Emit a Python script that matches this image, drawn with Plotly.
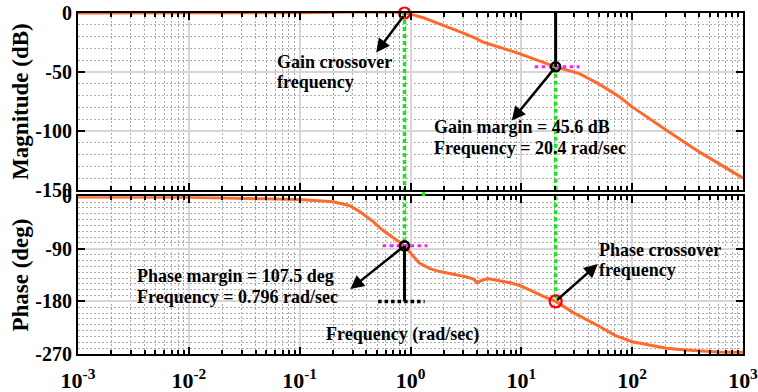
import math
import plotly.graph_objects as go

# ---------------- data ----------------
mag_freq = [0.001, 0.01, 0.1, 0.3, 0.55, 0.75, 0.883, 1.0, 1.3, 1.7, 2.2, 3.0, 3.94, 4.46,
            5.2, 6.35, 7.8, 9.6, 13, 20.4, 33.4, 50, 76.7, 100, 204, 403, 1000]
mag_db = [0, 0, 0.2, 0.8, 1.0, 0.6, 0, -1, -4, -8, -12, -17, -21.7, -24.5,
          -26.5, -28.8, -31.6, -34.4, -39, -45.6, -51.3, -60, -71, -79.5, -99.2, -117.6, -139.8]

phase_freq = [0.001, 0.01, 0.035, 0.1, 0.2, 0.28, 0.35, 0.45, 0.56, 0.7, 0.883, 1.05, 1.2, 1.5,
              1.83, 2.5, 3.2, 3.7, 4.0, 4.4, 4.95, 6.5, 8.3, 10, 12.6, 16, 20.4, 30, 50.8, 70,
              100, 150, 204, 300, 406, 600, 1000]
phase_deg = [-1.5, -2, -4, -5.7, -9.7, -16, -26.8, -42, -58, -72, -85, -102, -114.5, -124,
             -129, -134, -138, -142, -148, -144, -141, -145, -149, -154, -163, -172, -180, -200, -223, -238,
             -249, -256, -260, -263, -265, -266.5, -267]

decade_ticks = [1e-3, 1e-2, 1e-1, 1e0, 1e1, 1e2, 1e3]
decade_labels = ["<b>10<sup>-3</sup></b>", "<b>10<sup>-2</sup></b>", "<b>10<sup>-1</sup></b>",
                 "<b>10<sup>0</sup></b>", "<b>10<sup>1</sup></b>", "<b>10<sup>2</sup></b>",
                 "<b>10<sup>3</sup></b>"]
mag_ticks = [-150, -100, -50, 0]
mag_labels = ["<b>-150</b>", "<b>-100</b>", "<b>-50</b>", "<b>0</b>"]
phase_ticks = [-270, -180, -90, 0]
phase_labels = ["<b>-270</b>", "<b>-180</b>", "<b>-90</b>", "<b>0</b>"]

# margins
w_gc = 0.883          # gain crossover frequency (as drawn)
w_pc = 20.4           # phase crossover frequency
gm_level = -45.6      # magnitude at phase crossover
pm_level = -85        # phase at gain crossover (as drawn)
pc_level = -180

# auxiliary dotted segments (frequency spans)
mag_mark_span = [13.2, 33.5]
phase_mark_span = [0.56, 1.42]
black_dot_span = [0.51, 1.34]

# annotation arrow heads (freq, value)
gc_arrow_head = (0.49, -33.5)
gm_arrow_head = (8.2, -91)
pm_arrow_head = (0.286, -159)
pc_arrow_head = (49, -116)

ORANGE = "#ff6a2b"
GREEN = "#19e619"
MAGENTA = "#ff1aff"
FONT = "Liberation Serif"

top_dom = [0.4805, 1.0]
bot_dom = [0.0, 0.4629]

minor_vals = [k * 10.0 ** n for n in range(-3, 3) for k in range(2, 10)]

fig = go.Figure()

# Bode magnitude & phase
fig.add_trace(go.Scatter(x=mag_freq, y=mag_db, mode="lines", line=dict(color=ORANGE, width=3),
                         xaxis="x", yaxis="y", hoverinfo="skip"))
fig.add_trace(go.Scatter(x=phase_freq, y=phase_deg, mode="lines", line=dict(color=ORANGE, width=3),
                         xaxis="x2", yaxis="y2", hoverinfo="skip"))

# green dotted verticals
fig.add_trace(go.Scatter(x=[w_gc, w_gc], y=[0, -150], mode="lines",
                         line=dict(color=GREEN, width=3.5, dash="4px,3px"), xaxis="x", yaxis="y"))
fig.add_trace(go.Scatter(x=[w_gc, w_gc], y=[0, pm_level], mode="lines",
                         line=dict(color=GREEN, width=3.5, dash="4px,3px"), xaxis="x2", yaxis="y2"))
fig.add_trace(go.Scatter(x=[w_pc, w_pc], y=[gm_level, -150], mode="lines",
                         line=dict(color=GREEN, width=3.5, dash="4px,3px"), xaxis="x", yaxis="y"))
fig.add_trace(go.Scatter(x=[w_pc, w_pc], y=[0, pc_level], mode="lines",
                         line=dict(color=GREEN, width=3.5, dash="4px,3px"), xaxis="x2", yaxis="y2"))

# magenta dotted horizontals
fig.add_trace(go.Scatter(x=mag_mark_span, y=[gm_level, gm_level], mode="lines",
                         line=dict(color=MAGENTA, width=3, dash="3.5px,3.5px"), xaxis="x", yaxis="y"))
fig.add_trace(go.Scatter(x=phase_mark_span, y=[pm_level, pm_level], mode="lines",
                         line=dict(color=MAGENTA, width=3, dash="3.5px,3.5px"), xaxis="x2", yaxis="y2"))

# black solid verticals and black dotted horizontal
fig.add_trace(go.Scatter(x=[w_pc, w_pc], y=[0, gm_level], mode="lines",
                         line=dict(color="black", width=3), xaxis="x", yaxis="y"))
fig.add_trace(go.Scatter(x=[w_gc, w_gc], y=[pm_level, pc_level], mode="lines",
                         line=dict(color="black", width=3), xaxis="x2", yaxis="y2"))
fig.add_trace(go.Scatter(x=black_dot_span, y=[pc_level, pc_level], mode="lines",
                         line=dict(color="black", width=3.5, dash="3.5px,3px"), xaxis="x2", yaxis="y2"))

# markers
fig.add_trace(go.Scatter(x=[w_gc], y=[0], mode="markers", cliponaxis=False,
                         marker=dict(symbol="circle-open", size=11, color="red", line=dict(width=2.2, color="red")),
                         xaxis="x", yaxis="y"))
fig.add_trace(go.Scatter(x=[w_pc], y=[gm_level], mode="markers",
                         marker=dict(symbol="circle-open", size=9, color="black", line=dict(width=2.5, color="black")),
                         xaxis="x", yaxis="y"))
fig.add_trace(go.Scatter(x=[w_gc], y=[pm_level], mode="markers",
                         marker=dict(symbol="circle-open", size=9, color="black", line=dict(width=2.8, color="black")),
                         xaxis="x2", yaxis="y2"))
fig.add_trace(go.Scatter(x=[w_pc], y=[pc_level], mode="markers",
                         marker=dict(symbol="circle-open", size=12, color="red", line=dict(width=2.2, color="red")),
                         xaxis="x2", yaxis="y2"))

# green dots through the gap between the two panels
for wf in (w_gc, w_pc):
    fig.add_shape(type="line", xref="x", yref="paper", x0=math.log10(wf), x1=math.log10(wf),
                  y0=bot_dom[1], y1=top_dom[0], line=dict(color=GREEN, width=3.5, dash="4px,3px"))

txt_font = dict(family=FONT, size=18, color="black")


def label(text, xlog, y, ax="x", ay="y"):
    fig.add_annotation(text="<b>" + text + "</b>", x=xlog, y=y, xref=ax, yref=ay, xanchor="left",
                       yanchor="middle", showarrow=False, font=txt_font)


def arrow(tail, head, ax="x", ay="y"):
    fig.add_annotation(text="", x=math.log10(head[0]), y=head[1], ax=math.log10(tail[0]), ay=tail[1],
                       xref=ax, yref=ay, axref=ax, ayref=ay, showarrow=True, arrowhead=2,
                       arrowsize=1.1, arrowwidth=2.5, arrowcolor="black", standoff=0, startstandoff=0)


arrow((w_gc, -1.5), gc_arrow_head)
arrow((w_pc, gm_level), gm_arrow_head)
arrow((w_gc, pm_level), pm_arrow_head, "x2", "y2")
arrow((w_pc, pc_level), pc_arrow_head, "x2", "y2")

label("Gain crossover", -1.224, -41.7)
label("frequency", -1.224, -58.6)
label("Gain margin = 45.6 dB", 0.198, -96.7)
label("Frequency = 20.4 rad/sec", 0.198, -114.5)
label("Phase margin = 107.5 deg", -2.486, -136.2, "x2", "y2")
label("Frequency = 0.796 rad/sec", -2.486, -172.1, "x2", "y2")
label("Phase crossover", 1.680, -92.3, "x2", "y2")
label("frequency", 1.680, -126.5, "x2", "y2")
label("Frequency (rad/sec)", -0.782, -235.8, "x2", "y2")

GRID_MAJOR = "#d6d6d6"
GRID_MINOR = "#ababab"

x_common = dict(type="log", range=[-3.0002, 3.0002], showline=True, linewidth=2, linecolor="black",
                mirror="ticks", ticks="inside", ticklen=7, tickwidth=2, tickcolor="black",
                tickmode="array", tickvals=decade_ticks, ticktext=decade_labels, automargin=False,
                ticklabeloverflow="allow",
                showgrid=True, gridcolor=GRID_MAJOR, gridwidth=1.5, zeroline=False,
                tickfont=dict(family=FONT, size=22, color="black"),
                minor=dict(tickmode="array", tickvals=minor_vals, ticks="inside", ticklen=4, tickwidth=1.5,
                           tickcolor="black", showgrid=True, gridcolor=GRID_MINOR, griddash="2px,2px", gridwidth=1))
y_common = dict(showline=True, linewidth=2, linecolor="black", mirror="ticks", automargin=False,
                ticks="inside", ticklen=7, tickwidth=2, tickcolor="black", tickmode="array",
                showgrid=True, gridcolor=GRID_MAJOR, gridwidth=1.5, zeroline=False,
                tickfont=dict(family=FONT, size=20, color="black"),
                minor=dict(dtick=10, ticks="", showgrid=True, gridcolor=GRID_MINOR, griddash="2px,2px", gridwidth=1))

fig.update_layout(
    width=758, height=392, autosize=False,
    margin=dict(l=78, r=15, t=12.7, b=38),
    paper_bgcolor="white", plot_bgcolor="white",
    showlegend=False,
    font=dict(family=FONT, color="black"),
    xaxis=dict(x_common, anchor="y", domain=[0, 1], showticklabels=False),
    yaxis=dict(y_common, anchor="x", domain=top_dom, range=[-150, 0], tickvals=mag_ticks, ticktext=mag_labels,
               title=dict(text="<b>Magnitude (dB)</b>", standoff=0,
                          font=dict(family=FONT, size=23, color="black"))),
    xaxis2=dict(x_common, anchor="y2", domain=[0, 1], matches="x", ticklabelstandoff=6),
    yaxis2=dict(y_common, anchor="x2", domain=bot_dom, range=[-270, 0], tickvals=phase_ticks, ticktext=phase_labels,
                title=dict(text="<b>Phase (deg)</b>", standoff=0,
                           font=dict(family=FONT, size=23, color="black"))),
)

fig.write_html("out.html")
